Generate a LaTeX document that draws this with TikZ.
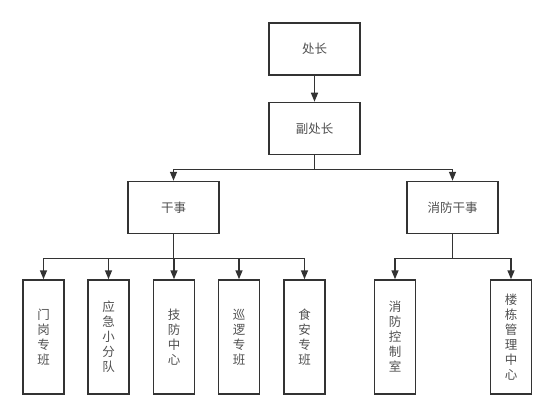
\documentclass[tikz,border=0pt]{standalone}
\usepackage{fontspec}
\setmainfont{Noto Sans CJK SC}
\usepackage{xcolor}
\usepackage{tikz}
\usetikzlibrary{arrows.meta}
\definecolor{linea}{HTML}{333333}
\definecolor{texto}{HTML}{505050}

\begin{document}
\begin{tikzpicture}[x=1pt, y=-1pt,
  caja/.style={draw=linea, line width=1.5pt, minimum width=91pt, minimum height=52pt, inner sep=0pt, text=texto, font=\fontsize{12.5}{15}\selectfont},
  vert/.style={caja, minimum width=41pt, minimum height=114pt, align=center},
  flecha/.style={draw=linea, line width=1.5pt, -{Triangle[width=7pt,length=9pt]}}
]
  \useasboundingbox (0,0) rectangle (554,417);
  \node[caja] (cz)   at (314.5,49)    {处长};
  \node[caja] (fcz)  at (314.5,128.5) {副处长};
  \node[caja] (gs)   at (173.5,207.5) {干事};
  \node[caja] (xfgs) at (452.5,207.5) {消防干事};
  \node[vert] (mg)  at (43.5,337)  {门\\岗\\专\\班};
  \node[vert] (yj)  at (108.5,337) {应\\急\\小\\分\\队};
  \node[vert] (jf)  at (174,337)   {技\\防\\中\\心};
  \node[vert] (xl)  at (239,337)   {巡\\逻\\专\\班};
  \node[vert] (sa)  at (304.5,337) {食\\安\\专\\班};
  \node[vert] (xk)  at (395,337)   {消\\防\\控\\制\\室};
  \node[vert] (ld)  at (511,337)   {楼\\栋\\管\\理\\中\\心};
  \draw[flecha] (cz) -- (fcz);
  \foreach \n in {gs,xfgs}
    \draw[flecha] (fcz.south) -- ++(0,14) -| (\n.north);
  \foreach \n in {mg,yj,jf,xl,sa}
    \draw[flecha] (gs.south) -- ++(0,24) -| (\n.north);
  \foreach \n in {xk,ld}
    \draw[flecha] (xfgs.south) -- ++(0,24) -| (\n.north);
\end{tikzpicture}
\end{document}
